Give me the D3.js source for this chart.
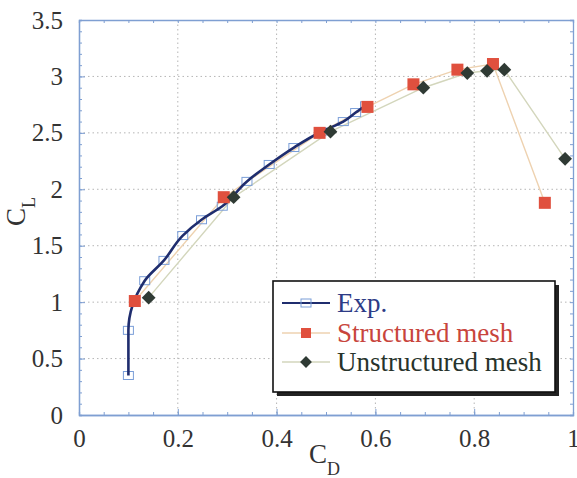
<!DOCTYPE html>
<html>
<head>
<meta charset="utf-8">
<script src="https://cdn.jsdelivr.net/npm/d3@7"></script>
<style>
  body { margin: 0; background: #fff; }
  svg, svg text { font-family: "Liberation Serif", "Times New Roman", Times, serif !important; }
</style>
</head>
<body>
<svg class="chart"></svg>
<script>
// experimental curve
const expCd = [0.100, 0.100, 0.133, 0.172, 0.210, 0.248, 0.290, 0.340, 0.385, 0.435, 0.490, 0.535, 0.560, 0.580]
const expCl = [0.35, 0.75, 1.19, 1.37, 1.59, 1.73, 1.85, 2.07, 2.22, 2.37, 2.51, 2.60, 2.68, 2.74]

// structured mesh
const strCd = [0.113, 0.293, 0.487, 0.584, 0.677, 0.766, 0.838, 0.943]
const strCl = [1.01, 1.93, 2.50, 2.73, 2.93, 3.06, 3.11, 1.88]

// unstructured mesh
const unsCd = [0.141, 0.313, 0.509, 0.697, 0.786, 0.826, 0.861, 0.984]
const unsCl = [1.04, 1.93, 2.51, 2.90, 3.03, 3.05, 3.06, 2.27]

const xTicks = [0, 0.2, 0.4, 0.6, 0.8, 1]
const yTicks = [0, 0.5, 1, 1.5, 2, 2.5, 3, 3.5]
const legendLabels = ['Exp.', 'Structured mesh', 'Unstructured mesh']

const W = 577, H = 478
const frame = { left: 79, right: 573, top: 20, bottom: 415 }

const x = d3.scaleLinear().domain([0, 1]).range([frame.left, frame.right])
const y = d3.scaleLinear().domain([0, 3.5]).range([frame.bottom, frame.top])

const svg = d3.select('.chart').attr('width', W).attr('height', H)
  .style('display', 'block')

const axisCol = '#7f9fd2'
const textCol = '#333'
const serif = '"Liberation Serif", "Times New Roman", Times, serif'

// grid
svg.append('g')
  .selectAll('line')
  .data(xTicks.slice(1, -1))
  .enter().append('line')
  .attr('x1', d => x(d)).attr('x2', d => x(d))
  .attr('y1', frame.top).attr('y2', frame.bottom)
  .attr('stroke', '#b5b5b5').attr('stroke-dasharray', '1.5,3')

svg.append('g')
  .selectAll('line')
  .data(yTicks.slice(1, -1))
  .enter().append('line')
  .attr('y1', d => y(d)).attr('y2', d => y(d))
  .attr('x1', frame.left).attr('x2', frame.right)
  .attr('stroke', '#b5b5b5').attr('stroke-dasharray', '1.5,3')

// axes (ticks point inward)
const minorX = d3.range(0, 1.0001, 0.05)
const minorY = d3.range(0, 3.5001, 0.1)

function styleAxis(g) {
  g.attr('font-family', serif).attr('font-size', 25)
  g.select('.domain').attr('stroke', axisCol).attr('stroke-width', 1.3)
  g.selectAll('.tick line').attr('stroke', axisCol)
  g.selectAll('.tick text').attr('fill', textCol)
}

svg.append('g')
  .attr('transform', `translate(0, ${frame.bottom})`)
  .call(d3.axisBottom(x).tickValues(minorX).tickSize(-3).tickFormat(''))
  .call(styleAxis)

svg.append('g')
  .attr('transform', `translate(0, ${frame.bottom})`)
  .call(d3.axisBottom(x).tickValues(xTicks).tickSizeInner(-6).tickSizeOuter(0)
    .tickPadding(14).tickFormat(d3.format('')))
  .call(styleAxis)

svg.append('g')
  .attr('transform', `translate(0, ${frame.top})`)
  .call(d3.axisTop(x).tickValues(minorX).tickSize(-3).tickFormat(''))
  .call(styleAxis)

svg.append('g')
  .attr('transform', `translate(${frame.left}, 0)`)
  .call(d3.axisLeft(y).tickValues(minorY).tickSize(-3).tickFormat(''))
  .call(styleAxis)

svg.append('g')
  .attr('transform', `translate(${frame.left}, 0)`)
  .call(d3.axisLeft(y).tickValues(yTicks).tickSizeInner(-6).tickSizeOuter(0)
    .tickPadding(16).tickFormat(d3.format('')))
  .call(styleAxis)

svg.append('g')
  .attr('transform', `translate(${frame.right}, 0)`)
  .call(d3.axisRight(y).tickValues(minorY).tickSize(-3).tickFormat(''))
  .call(styleAxis)

// axis titles
const xt = svg.append('text')
  .attr('x', 309).attr('y', 463)
  .attr('fill', textCol)
  .attr('font-family', serif)
  .attr('font-size', 27)
xt.append('tspan').text('C')
xt.append('tspan').attr('dy', 12).attr('font-size', 18).text('D')

const yt = svg.append('text')
  .attr('transform', 'translate(25, 226) rotate(-90)')
  .attr('fill', textCol)
  .attr('font-family', serif)
  .attr('font-size', 27)
yt.append('tspan').text('C')
yt.append('tspan').attr('dy', 10).attr('font-size', 18).text('L')

// series
const exp = expCd.map((d, i) => ({ cd: d, cl: expCl[i] }))
const str = strCd.map((d, i) => ({ cd: d, cl: strCl[i] }))
const uns = unsCd.map((d, i) => ({ cd: d, cl: unsCl[i] }))

const line = d3.line().x(d => x(d.cd)).y(d => y(d.cl))
const smooth = d3.line().x(d => x(d.cd)).y(d => y(d.cl)).curve(d3.curveMonotoneY)

const strCol = '#e0503e', strLine = '#eed2b0'
const unsCol = '#2f3a34', unsLine = '#d3d6bc'
const expCol = '#1f2d6e', expMark = '#7a9ed8'

svg.append('path').datum(str).attr('d', line)
  .attr('fill', 'none').attr('stroke', strLine).attr('stroke-width', 1.4)
svg.append('path').datum(uns).attr('d', line)
  .attr('fill', 'none').attr('stroke', unsLine).attr('stroke-width', 1.4)

svg.append('g').selectAll('rect')
  .data(exp)
  .enter().append('rect')
  .attr('x', d => x(d.cd) - 5).attr('y', d => y(d.cl) - 4)
  .attr('width', 10).attr('height', 8)
  .attr('fill', 'none').attr('stroke', expMark).attr('stroke-width', 1)

svg.append('path').datum(exp).attr('d', smooth)
  .attr('fill', 'none').attr('stroke', expCol).attr('stroke-width', 2.6)

svg.append('g').selectAll('rect')
  .data(str)
  .enter().append('rect')
  .attr('x', d => x(d.cd) - 6).attr('y', d => y(d.cl) - 6)
  .attr('width', 12).attr('height', 12)
  .attr('fill', strCol)

const diamond = d3.symbol().type(d3.symbolSquare).size(95)
svg.append('g').selectAll('path')
  .data(uns)
  .enter().append('path')
  .attr('d', diamond)
  .attr('transform', d => `translate(${x(d.cd)}, ${y(d.cl)}) rotate(45)`)
  .attr('fill', unsCol)

// legend
const lg = svg.append('g').attr('transform', 'translate(273, 281)')
lg.append('rect').attr('x', 4).attr('y', 4).attr('width', 282).attr('height', 111).attr('fill', '#222')
lg.append('rect').attr('x', 0).attr('y', 0).attr('width', 282).attr('height', 111)
  .attr('fill', '#fff').attr('stroke', '#111').attr('stroke-width', 1.6)

const rowY = [22, 52, 81]
const rowTxt = ['#2d3b86', '#c8453c', '#27332b']
const rowLine = [expCol, strLine, unsLine]

legendLabels.forEach((label, i) => {
  const r = lg.append('g').attr('transform', `translate(0, ${rowY[i]})`)
  r.append('line').attr('x1', 9).attr('x2', 57).attr('y1', 0).attr('y2', 0)
    .attr('stroke', rowLine[i]).attr('stroke-width', i === 0 ? 2 : 1.4)
  if (i === 0) {
    r.append('rect').attr('x', 28).attr('y', -4).attr('width', 10).attr('height', 8)
      .attr('fill', 'none').attr('stroke', expMark)
  } else if (i === 1) {
    r.append('rect').attr('x', 28).attr('y', -5).attr('width', 10).attr('height', 10).attr('fill', strCol)
  } else {
    r.append('path').attr('d', d3.symbol().type(d3.symbolSquare).size(70))
      .attr('transform', 'translate(33, 0) rotate(45)').attr('fill', unsCol)
  }
  r.append('text').attr('x', 64).attr('y', 9)
    .attr('fill', rowTxt[i])
    .attr('font-family', serif)
    .attr('font-size', 27)
    .text(label)
})
</script>
</body>
</html>
